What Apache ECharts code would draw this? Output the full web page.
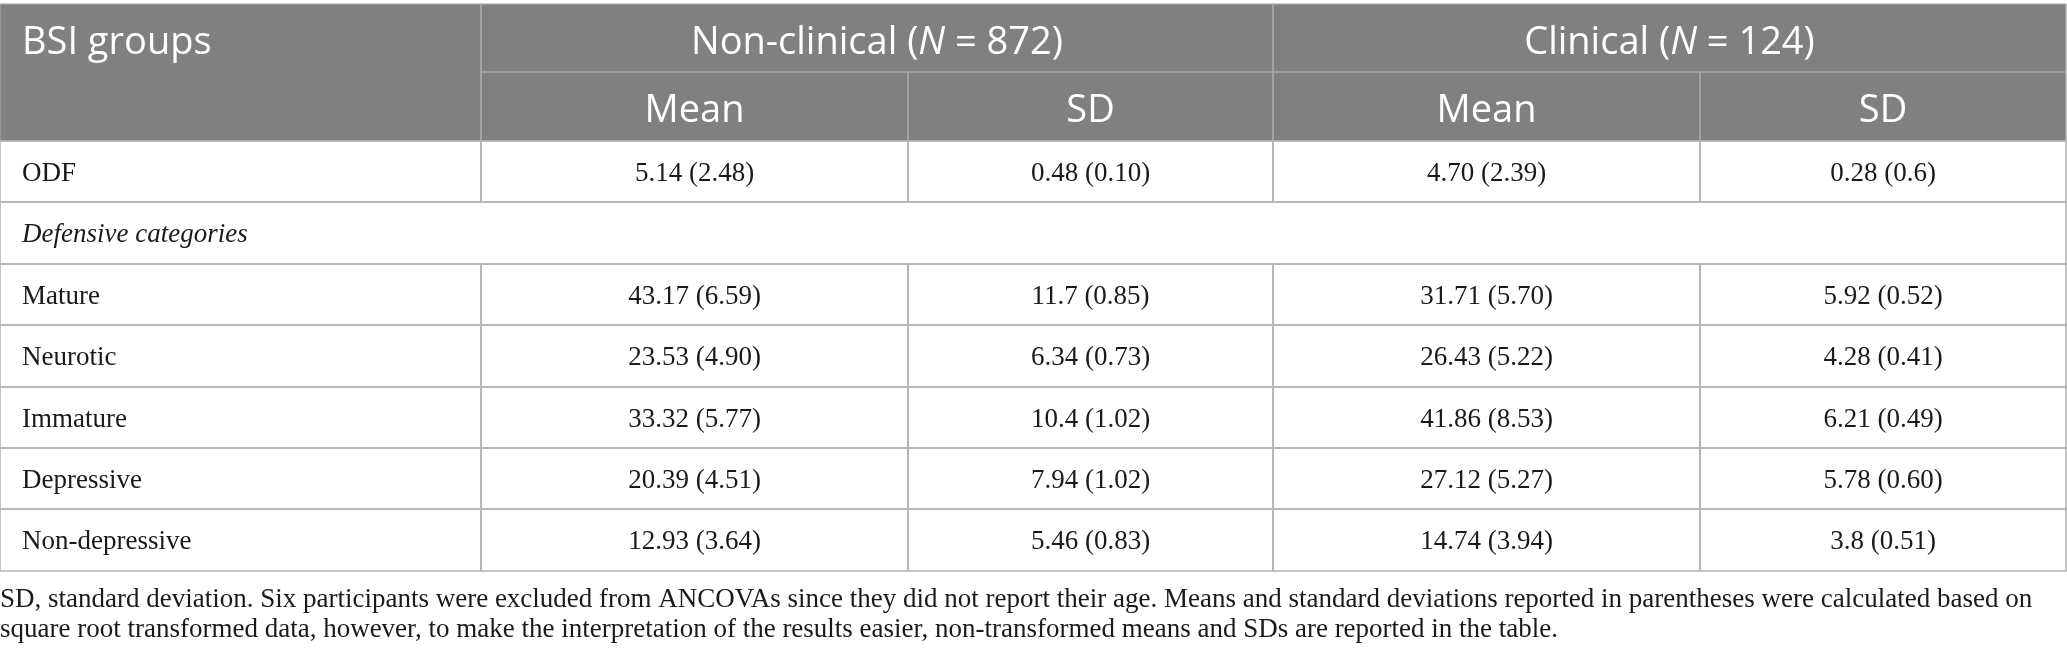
<!DOCTYPE html>
<html>
<head>
<meta charset="utf-8">
<script src="https://cdn.jsdelivr.net/npm/echarts@6/dist/echarts.min.js"></script>
<style>
html,body{margin:0;padding:0;background:#fff;}
#chart{width:2067px;height:660px;}
</style>
</head>
<body>
<div id="chart"></div>
<script>
// ---- data ----
const groupNames = ['Non-clinical', 'Clinical'];
const groupN = [872, 124];
const statLabels = ['Mean', 'SD'];
const firstHeader = 'BSI groups';
const sectionLabel = 'Defensive categories';
const rowLabels = ['ODF', 'Mature', 'Neurotic', 'Immature', 'Depressive', 'Non-depressive'];
const nonClinicalMean = ['5.14 (2.48)', '43.17 (6.59)', '23.53 (4.90)', '33.32 (5.77)', '20.39 (4.51)', '12.93 (3.64)'];
const nonClinicalSD = ['0.48 (0.10)', '11.7 (0.85)', '6.34 (0.73)', '10.4 (1.02)', '7.94 (1.02)', '5.46 (0.83)'];
const clinicalMean = ['4.70 (2.39)', '31.71 (5.70)', '26.43 (5.22)', '41.86 (8.53)', '27.12 (5.27)', '14.74 (3.94)'];
const clinicalSD = ['0.28 (0.6)', '5.92 (0.52)', '4.28 (0.41)', '6.21 (0.49)', '5.78 (0.60)', '3.8 (0.51)'];
const footnoteLines = [
  'SD, standard deviation. Six participants were excluded from ANCOVAs since they did not report their age. Means and standard deviations reported in parentheses were calculated based on',
  'square root transformed data, however, to make the interpretation of the results easier, non-transformed means and SDs are reported in the table.'
];

// ---- layout (pixel-unit axes) ----
const colEdges = [0, 481, 908, 1273, 1700, 2066];
const rowEdges = [4, 72, 141, 202, 264, 325, 387, 448, 509, 571];
const footBaselines = [609, 639];

const HEAD_FILL = '#808080', HEAD_LINE = '#a8a8a8', BODY_LINE = '#b4b4b4';
const HEAD_FONT = '38px "Open Sans"';
const BODY_FONT = '27px "Liberation Serif"';
const FOOT_FONT = '27px "Liberation Serif"';

// build cells
const cells = [];
cells.push({c0:0,c1:1,r0:0,r1:2,text:firstHeader,align:'left',head:true});
groupNames.forEach((g,i)=>{
  cells.push({c0:1+2*i,c1:3+2*i,r0:0,r1:1,text:g+' ({i|N} = '+groupN[i]+')',align:'center',head:true});
});
for (let i=0;i<2;i++) statLabels.forEach((s,j)=>{
  cells.push({c0:1+2*i+j,c1:2+2*i+j,r0:1,r1:2,text:s,align:'center',head:true});
});
const valueCols = [nonClinicalMean, nonClinicalSD, clinicalMean, clinicalSD];
rowLabels.forEach((lab,k)=>{
  const r = k===0 ? 2 : k+3;
  cells.push({c0:0,c1:1,r0:r,r1:r+1,text:lab,align:'left',head:false});
  valueCols.forEach((arr,j)=>{
    cells.push({c0:1+j,c1:2+j,r0:r,r1:r+1,text:arr[k],align:'center',head:false});
  });
});
cells.push({c0:0,c1:5,r0:3,r1:4,text:sectionLabel,align:'left',head:false,italic:true});

const cellData = cells.map(c=>[colEdges[c.c0], rowEdges[c.r0], colEdges[c.c1], rowEdges[c.r1]]);
const footData = footnoteLines.map((t,i)=>[0, footBaselines[i]]);

function cellRect(api){
  const p0 = api.coord([api.value(0), api.value(1)]);
  const p1 = api.coord([api.value(2), api.value(3)]);
  return {x:p0[0], y:p0[1], width:p1[0]-p0[0], height:p1[1]-p0[1]};
}

const chart = echarts.init(document.getElementById('chart'), null, {renderer:'canvas'});
chart.setOption({
  animation:false,
  grid:{left:0,right:0,top:0,bottom:0},
  xAxis:{type:'value',min:0,max:2067,show:false},
  yAxis:{type:'value',min:0,max:660,inverse:true,show:false},
  series:[
    {
      type:'custom', coordinateSystem:'cartesian2d', z:1,
      encode:{x:[0,2],y:[1,3]},
      data:cellData,
      renderItem:function(params, api){
        const c = cells[params.dataIndex];
        const r = cellRect(api);
        const midY = api.coord([0, (rowEdges[c.r0]+rowEdges[c.r0+1])/2])[1] + (c.head ? 5 : 2);
        const tx = c.align==='left' ? r.x+22 : r.x + r.width/2;
        return {type:'group', children:[
          {type:'rect', shape:r, style:{fill: c.head?HEAD_FILL:'#ffffff'}},
          {type:'text', style:{
            text:c.text, x:tx, y:midY, align:c.align, verticalAlign:'middle',
            font: c.head ? HEAD_FONT : (c.italic ? 'italic '+BODY_FONT : BODY_FONT),
            fill: c.head ? '#ffffff' : '#1a1a1a',
            rich:{i:{font:'italic '+HEAD_FONT, fill:'#ffffff'}}
          }}
        ]};
      }
    },
    {
      type:'custom', coordinateSystem:'cartesian2d', z:2,
      encode:{x:[0,2],y:[1,3]},
      data:cellData,
      renderItem:function(params, api){
        const c = cells[params.dataIndex];
        const r = cellRect(api);
        return {type:'rect', shape:r, style:{fill:null, stroke:c.head?HEAD_LINE:BODY_LINE, lineWidth:c.head?1.2:1.6}};
      }
    },
    {
      type:'custom', coordinateSystem:'cartesian2d', z:3,
      encode:{x:0,y:1},
      data:footData,
      renderItem:function(params, api){
        const p = api.coord([api.value(0), api.value(1)]);
        return {type:'text', style:{
          text:'{f|'+footnoteLines[params.dataIndex]+'}', x:p[0], y:p[1]-9, align:'left', verticalAlign:'middle',
          font:FOOT_FONT, fill:'#1a1a1a',
          rich:{f:{font:FOOT_FONT, fill:'#1a1a1a'}}
        }};
      }
    }
  ]
});
</script>
</body>
</html>
